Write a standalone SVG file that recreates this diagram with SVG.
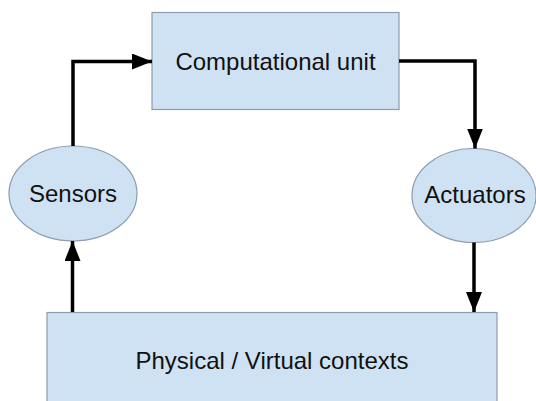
<svg xmlns="http://www.w3.org/2000/svg" width="536" height="401" viewBox="0 0 536 401">
<defs>
<style>
.box{fill:#cfe2f3;stroke:#8c9cad;stroke-width:1.2}
.lbl{font-family:"Liberation Sans",Arial,sans-serif;font-size:24px;fill:#111;text-anchor:middle}
.conn{fill:none;stroke:#000;stroke-width:3.5}
</style>
<marker id="ah" markerUnits="userSpaceOnUse" markerWidth="22" markerHeight="16" refX="20" refY="8" orient="auto" viewBox="0 0 22 16">
<path d="M0,0 L20,8 L0,16 Z" fill="#000"/>
</marker>
</defs>
<rect width="536" height="401" fill="#fff"/>
<g id="computational-unit">
<rect class="box" x="152" y="12.5" width="247" height="97"/>
<text class="lbl" x="275.5" y="70">Computational unit</text>
</g>
<g id="sensors">
<ellipse class="box" cx="73" cy="193.5" rx="64" ry="47.5"/>
<text class="lbl" x="73" y="201.5">Sensors</text>
</g>
<g id="actuators">
<ellipse class="box" cx="474" cy="195.5" rx="62" ry="47"/>
<text class="lbl" x="475" y="203">Actuators</text>
</g>
<g id="contexts">
<rect class="box" x="47" y="312.5" width="450" height="100"/>
<text class="lbl" x="272" y="369">Physical / Virtual contexts</text>
</g>
<g id="connectors">
<path class="conn" d="M73,146 V61.5 H152" marker-end="url(#ah)"/>
<path class="conn" d="M399,61 H475 V148.5" marker-end="url(#ah)"/>
<path class="conn" d="M474,242.5 V312" marker-end="url(#ah)"/>
<path class="conn" d="M72.5,312 V241" marker-end="url(#ah)"/>
</g>
</svg>
